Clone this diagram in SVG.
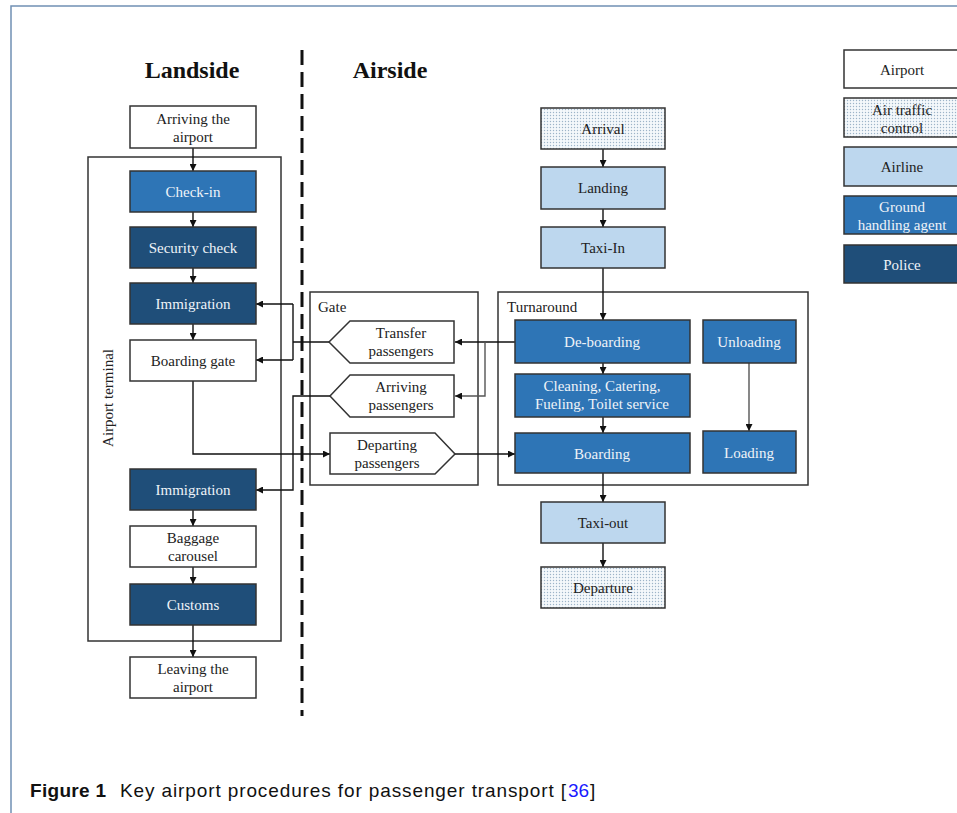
<svg xmlns="http://www.w3.org/2000/svg" width="957" height="813" viewBox="0 0 957 813">
<defs>
<style>
.box{stroke:#333;stroke-width:1.5}
.w{fill:#fff}
.gh{fill:#2e75b6}
.po{fill:#1f4e79}
.al{fill:#bdd7ee}
.atc{fill:url(#dots)}
.t{font-family:"Liberation Serif","Times New Roman",serif;font-size:15px;text-anchor:middle;fill:#222}
.tw{font-family:"Liberation Serif","Times New Roman",serif;font-size:15px;text-anchor:middle;fill:#eef3f8}
.lbl{font-family:"Liberation Serif","Times New Roman",serif;font-size:15px;fill:#222}
.hd{font-family:"Liberation Serif","Times New Roman",serif;font-size:24px;font-weight:bold;text-anchor:middle;fill:#111}
.cap{font-family:"Liberation Sans",Arial,sans-serif;font-size:19px;fill:#111}
.link{fill:#1a1aff}
.c{fill:none;stroke:#111;stroke-width:1.4}
.cg{fill:none;stroke:#555;stroke-width:1.4}
.frame{fill:none;stroke:#7090b4;stroke-width:1.5}
</style>
<pattern id="dots" width="3" height="3" patternUnits="userSpaceOnUse">
<rect width="3" height="3" fill="#f4f8fb"/>
<circle cx="1.5" cy="1.5" r="0.7" fill="#9db4c8"/>
</pattern>
<marker id="ah" viewBox="0 0 10 10" refX="10" refY="5" markerWidth="7" markerHeight="7" orient="auto" markerUnits="userSpaceOnUse">
<path d="M0,0 L10,5 L0,10 z" fill="#111"/>
</marker>
</defs>
<rect width="957" height="813" fill="#fff"/>
<path class="frame" d="M11,813 V6 H957"/>

<text class="hd" x="192" y="78">Landside</text>
<text class="hd" x="390" y="78">Airside</text>
<line x1="302" y1="50" x2="302" y2="716" stroke="#111" stroke-width="3" stroke-dasharray="15 7"/>

<g id="terminal">
<rect x="88" y="157" width="193" height="484" fill="none" class="box"/>
<text class="lbl" transform="translate(113,398) rotate(-90)" text-anchor="middle">Airport terminal</text>
</g>
<g id="gate">
<rect x="310" y="292" width="168" height="193" fill="none" class="box"/>
<text class="lbl" x="318" y="312">Gate</text>
</g>
<g id="turnaround">
<rect x="498" y="292" width="310" height="193" fill="none" class="box"/>
<text class="lbl" x="507" y="312">Turnaround</text>
</g>

<g id="connectors">
<path class="c" d="M193,148 V171" marker-end="url(#ah)"/>
<path class="c" d="M193,212 V227" marker-end="url(#ah)"/>
<path class="c" d="M193,268 V283" marker-end="url(#ah)"/>
<path class="c" d="M193,324 V340" marker-end="url(#ah)"/>
<path class="c" d="M193,510 V526" marker-end="url(#ah)"/>
<path class="c" d="M193,567 V584" marker-end="url(#ah)"/>
<path class="c" d="M193,625 V657" marker-end="url(#ah)"/>
<path class="c" d="M329,342 H293"/>
<path class="c" d="M293,304 V360"/>
<path class="c" d="M293,304 H256" marker-end="url(#ah)"/>
<path class="c" d="M293,360 H256" marker-end="url(#ah)"/>
<path class="c" d="M330,396 H293 V490 H256" marker-end="url(#ah)"/>
<path class="c" d="M193,381 V454 H330" marker-end="url(#ah)"/>
<path class="c" d="M455,454 H515" marker-end="url(#ah)"/>
<path class="c" d="M515,342 H455" marker-end="url(#ah)"/>
<path class="cg" d="M485,342 V396 H455" marker-end="url(#ah)"/>
<path class="c" d="M603,149 V167" marker-end="url(#ah)"/>
<path class="c" d="M603,209 V227" marker-end="url(#ah)"/>
<path class="c" d="M603,268 V320" marker-end="url(#ah)"/>
<path class="c" d="M603,363 V374" marker-end="url(#ah)"/>
<path class="c" d="M603,417 V433" marker-end="url(#ah)"/>
<path class="c" d="M603,473 V502" marker-end="url(#ah)"/>
<path class="c" d="M603,543 V567" marker-end="url(#ah)"/>
<path class="cg" d="M749,363 V431" marker-end="url(#ah)"/>
</g>

<g id="arriving-airport"><rect class="box w" x="130" y="106" width="126" height="42"/><text class="t" x="193" y="124">Arriving the</text><text class="t" x="193" y="142">airport</text></g>
<g id="check-in"><rect class="box gh" x="130" y="171" width="126" height="41"/><text class="tw" x="193" y="197">Check-in</text></g>
<g id="security"><rect class="box po" x="130" y="227" width="126" height="41"/><text class="tw" x="193" y="253">Security check</text></g>
<g id="immigration1"><rect class="box po" x="130" y="283" width="126" height="41"/><text class="tw" x="193" y="309">Immigration</text></g>
<g id="boarding-gate"><rect class="box w" x="130" y="340" width="126" height="41"/><text class="t" x="193" y="366">Boarding gate</text></g>
<g id="immigration2"><rect class="box po" x="130" y="469" width="126" height="41"/><text class="tw" x="193" y="495">Immigration</text></g>
<g id="baggage"><rect class="box w" x="130" y="526" width="126" height="41"/><text class="t" x="193" y="543">Baggage</text><text class="t" x="193" y="561">carousel</text></g>
<g id="customs"><rect class="box po" x="130" y="584" width="126" height="41"/><text class="tw" x="193" y="610">Customs</text></g>
<g id="leaving"><rect class="box w" x="130" y="657" width="126" height="41"/><text class="t" x="193" y="674">Leaving the</text><text class="t" x="193" y="692">airport</text></g>

<g id="transfer"><path class="box w" d="M329,342 L350,321 H454 V363 H350 Z"/><text class="t" x="401" y="338">Transfer</text><text class="t" x="401" y="356">passengers</text></g>
<g id="arriving-pax"><path class="box w" d="M330,396 L350,375 H454 V417 H350 Z"/><text class="t" x="401" y="392">Arriving</text><text class="t" x="401" y="410">passengers</text></g>
<g id="departing-pax"><path class="box w" d="M330,433 H435 L455,454 L435,474 H330 Z"/><text class="t" x="387" y="450">Departing</text><text class="t" x="387" y="468">passengers</text></g>

<g id="arrival"><rect class="box atc" x="541" y="108" width="124" height="41"/><text class="t" x="603" y="134">Arrival</text></g>
<g id="landing"><rect class="box al" x="541" y="167" width="124" height="42"/><text class="t" x="603" y="193">Landing</text></g>
<g id="taxi-in"><rect class="box al" x="541" y="227" width="124" height="41"/><text class="t" x="603" y="253">Taxi-In</text></g>
<g id="de-boarding"><rect class="box gh" x="515" y="320" width="175" height="43"/><text class="tw" x="602" y="347">De-boarding</text></g>
<g id="cleaning"><rect class="box gh" x="515" y="374" width="175" height="43"/><text class="tw" x="602" y="391">Cleaning, Catering,</text><text class="tw" x="602" y="409">Fueling, Toilet service</text></g>
<g id="boarding"><rect class="box gh" x="515" y="433" width="175" height="40"/><text class="tw" x="602" y="459">Boarding</text></g>
<g id="unloading"><rect class="box gh" x="703" y="320" width="93" height="43"/><text class="tw" x="749" y="347">Unloading</text></g>
<g id="loading"><rect class="box gh" x="703" y="431" width="93" height="42"/><text class="tw" x="749" y="458">Loading</text></g>
<g id="taxi-out"><rect class="box al" x="541" y="502" width="124" height="41"/><text class="t" x="603" y="528">Taxi-out</text></g>
<g id="departure"><rect class="box atc" x="541" y="567" width="124" height="41"/><text class="t" x="603" y="593">Departure</text></g>

<g id="legend">
<rect class="box w" x="844" y="50" width="116" height="38"/><text class="t" x="902" y="75">Airport</text>
<rect class="box atc" x="844" y="98" width="116" height="39"/><text class="t" x="902" y="115">Air traffic</text><text class="t" x="902" y="133">control</text>
<rect class="box al" x="844" y="147" width="116" height="39"/><text class="t" x="902" y="172">Airline</text>
<rect class="box gh" x="844" y="196" width="116" height="38"/><text class="tw" x="902" y="212">Ground</text><text class="tw" x="902" y="230">handling agent</text>
<rect class="box po" x="844" y="245" width="116" height="38"/><text class="tw" x="902" y="270">Police</text>
</g>

<g id="caption">
<text class="cap" x="30" y="797" font-weight="bold" textLength="76" lengthAdjust="spacing">Figure 1</text>
<text class="cap" x="120" y="797" textLength="446" lengthAdjust="spacing">Key airport procedures for passenger transport [</text>
<text class="cap link" x="568" y="797">36</text>
<text class="cap" x="590" y="797">]</text>
</g>
</svg>
